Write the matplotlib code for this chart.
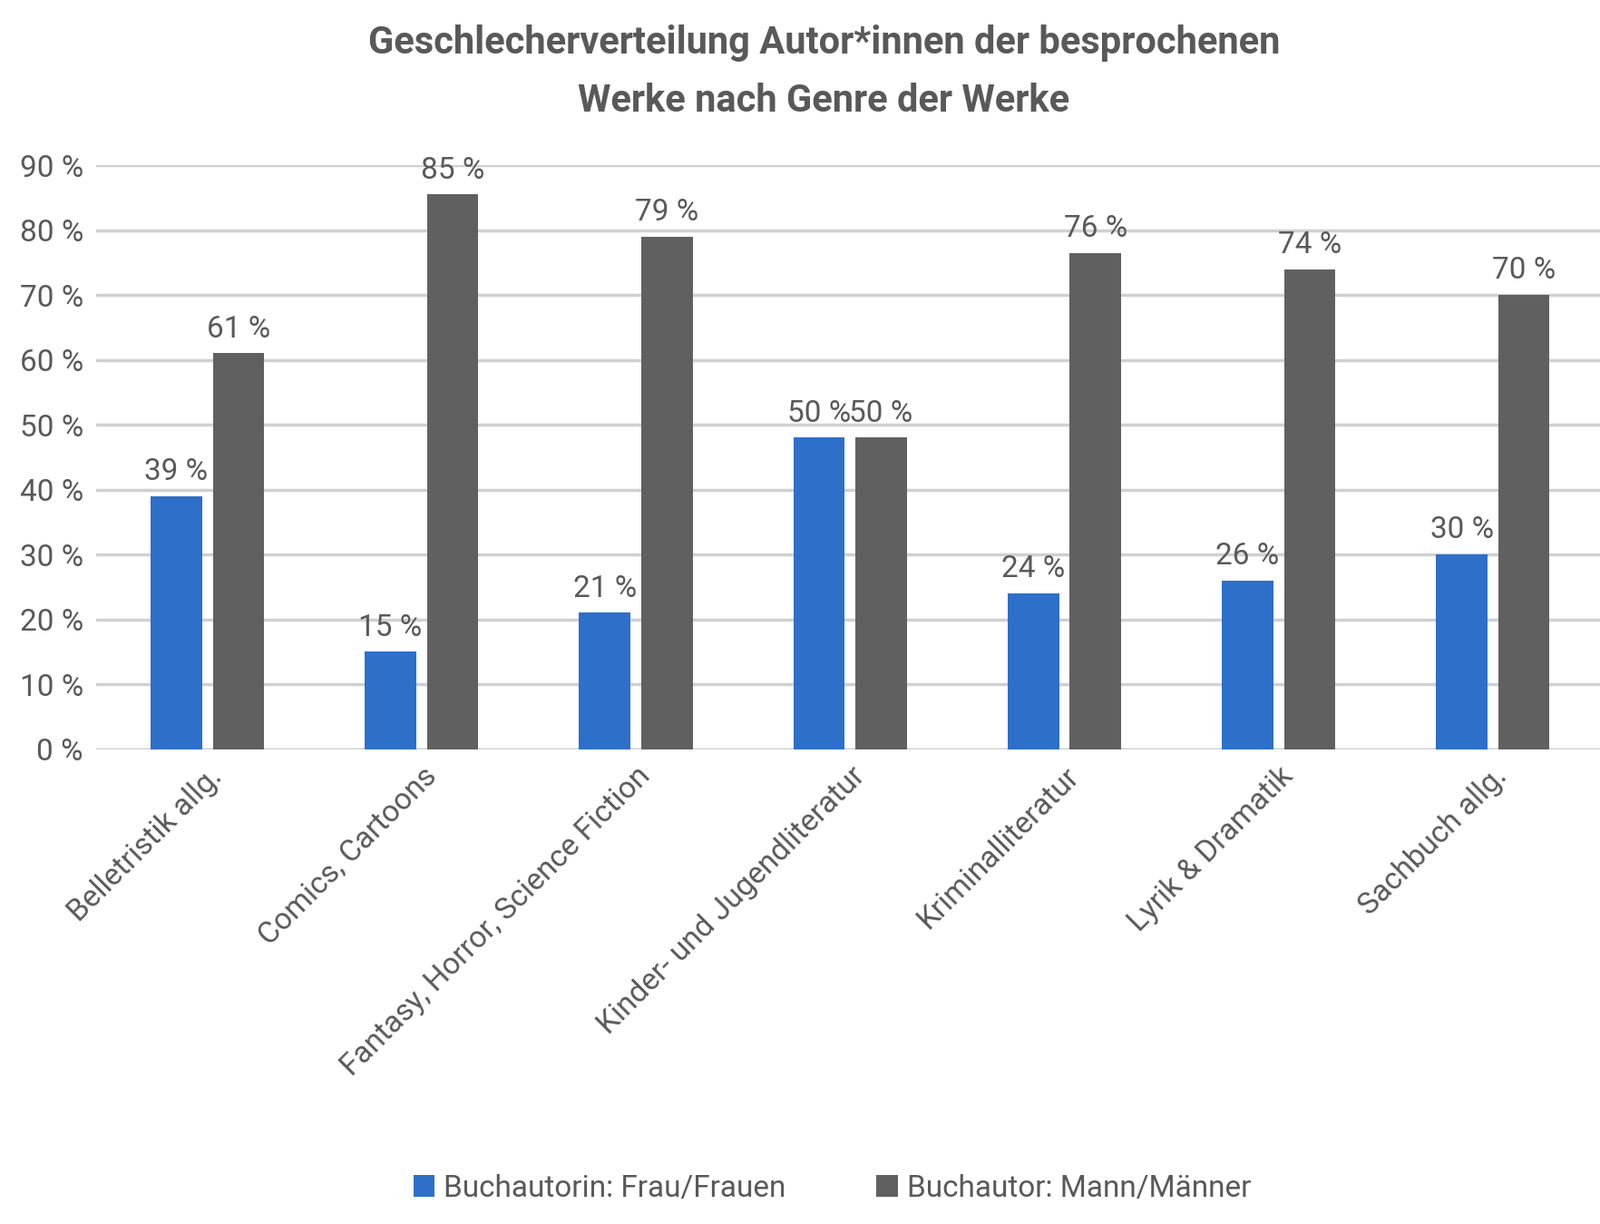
import matplotlib
matplotlib.use("Agg")
import matplotlib.pyplot as plt
import numpy as np

# Daten
genres = ["Belletristik allg.", "Comics, Cartoons", "Fantasy, Horror, Science Fiction",
          "Kinder- und Jugendliteratur", "Kriminalliteratur", "Lyrik & Dramatik", "Sachbuch allg."]
frauen = [39, 15, 21, 48, 24, 26, 30]
maenner = [61, 85.5, 79, 48, 76.5, 74, 70]
frauen_labels = ["39 %", "15 %", "21 %", "50 %", "24 %", "26 %", "30 %"]
maenner_labels = ["61 %", "85 %", "79 %", "50 %", "76 %", "74 %", "70 %"]
yticks = [0, 10, 20, 30, 40, 50, 60, 70, 80, 90]

BLUE = "#2E6FC9"
GREY = "#606060"
TXT = "#595959"
plt.rcParams["font.family"] = "Roboto"

fig = plt.figure(figsize=(17.64, 13.49), dpi=100)
ax = fig.add_axes([0.06, 0.388, 0.94, 0.477])

x = np.arange(len(genres))
w = 0.24
b1 = ax.bar(x - 0.145, frauen, w, color=BLUE, zorder=3, label="Buchautorin: Frau/Frauen")
b2 = ax.bar(x + 0.145, maenner, w, color=GREY, zorder=3, label="Buchautor: Mann/Männer")
for bars, labs in ((b1, frauen_labels), (b2, maenner_labels)):
    for r, t in zip(bars, labs):
        ax.text(r.get_x() + r.get_width() / 2, r.get_height() + 1.5, t,
                ha="center", va="bottom", fontsize=24, color=TXT)

ax.set_ylim(0, 90)
ax.set_xlim(-0.52, 6.5)
ax.set_yticks(yticks)
ax.set_yticklabels([f"{v} %" for v in yticks], fontsize=24, color=TXT)
ax.yaxis.grid(True, color="#D0D0D0", linewidth=2.5, zorder=0)
ax.set_xticks(x)
ax.set_xticklabels(genres, rotation=45, ha="right", rotation_mode="anchor",
                   fontsize=24, color=TXT)
ax.tick_params(length=0, pad=10)
for s in ax.spines.values():
    s.set_visible(False)
ax.axhline(0, color="#D0D0D0", linewidth=2.5, zorder=1)

fig.text(0.515, 0.965, "Geschlecherverteilung Autor*innen der besprochenen",
         ha="center", va="center", fontsize=30, fontweight="bold", color=TXT)
fig.text(0.515, 0.917, "Werke nach Genre der Werke",
         ha="center", va="center", fontsize=30, fontweight="bold", color=TXT)

fig.legend(loc="lower center", bbox_to_anchor=(0.52, -0.005), ncol=2, frameon=False,
           fontsize=24, labelcolor=TXT, handlelength=0.7, handleheight=0.7,
           columnspacing=3, handletextpad=0.3)

fig.savefig("out.png", dpi=100)
